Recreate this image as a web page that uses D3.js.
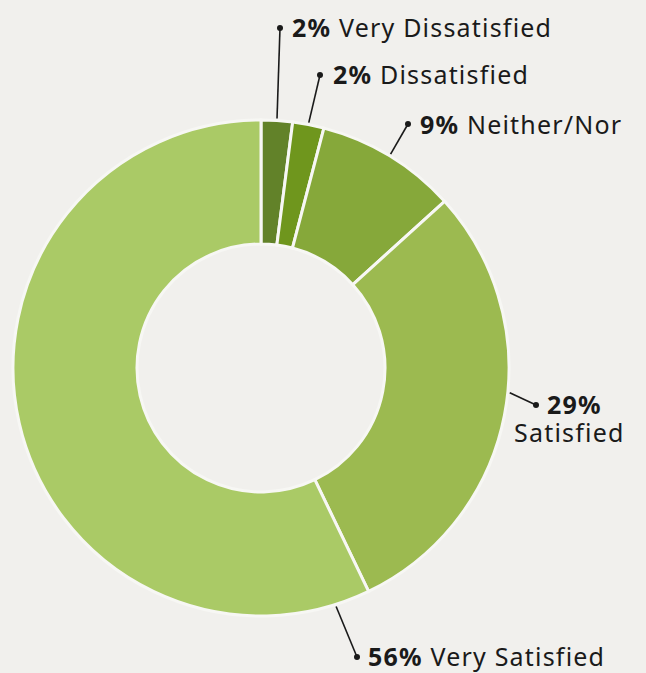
<!DOCTYPE html>
<html><head><meta charset="utf-8">
<script src="https://cdn.jsdelivr.net/npm/d3@7"></script>
<style>
html,body{margin:0;padding:0;background:#f1f0ed;}
svg{display:block;}
text{font-family:"Noto Sans",sans-serif;fill:#1a1a1a;letter-spacing:1.2px;}
</style></head><body>
<svg id="c" width="646" height="673"></svg>
<script>
const categories = ["Very Dissatisfied","Dissatisfied","Neither/Nor","Satisfied","Very Satisfied"];
const values = [2, 2, 9, 29, 56];
const pctLabels = ["2%","2%","9%","29%","56%"];
const colors = ["#628229","#6f961d","#86a83a","#9cba50","#aaca66"];

// label layout: anchor position within slice (0..1), dot position, text lines
const labelLayout = [
  {f:0.5, dot:[280,28], lines:[{x:292,y:37,parts:[[0,1],[" ",0],[1,0]]}]},
  {f:0.5, dot:[320,75], lines:[{x:333,y:84,parts:[[0,1],[" ",0],[1,0]]}]},
  {f:0.5, dot:[408,124], lines:[{x:420,y:134,parts:[[0,1],[" ",0],[1,0]]}]},
  {f:0.45, dot:[536,405], lines:[{x:547,y:414,parts:[[0,1]]},{x:514,y:442,parts:[[1,0]]}]},
  {f:0.04, dot:[357,657], lines:[{x:368,y:666,parts:[[0,1],[" ",0],[1,0]]}]}
];

const cx = 261, cy = 368, R = 248, r = 124;
const svg = d3.select("#c");
const g = svg.append("g").attr("transform",`translate(${cx},${cy})`);
const pie = d3.pie().sort(null).value(d=>d.v)(values.map((v,i)=>({v,i})));
const arc = d3.arc().innerRadius(r).outerRadius(R);
g.selectAll("path").data(pie).join("path")
  .attr("d",arc).attr("fill",d=>colors[d.data.i])
  .attr("stroke","#f7f7f4").attr("stroke-width",3).attr("stroke-linejoin","miter");

pie.forEach((d,i)=>{
  const L = labelLayout[i];
  const a = d.startAngle + (d.endAngle-d.startAngle)*L.f;
  const x0 = cx + (R+2)*Math.sin(a), y0 = cy - (R+2)*Math.cos(a);
  svg.append("line").attr("x1",x0).attr("y1",y0).attr("x2",L.dot[0]).attr("y2",L.dot[1])
    .attr("stroke","#1a1a1a").attr("stroke-width",1.6);
  svg.append("circle").attr("cx",L.dot[0]).attr("cy",L.dot[1]).attr("r",3).attr("fill","#1a1a1a");
  L.lines.forEach(ln=>{
    const t = svg.append("text").attr("x",ln.x).attr("y",ln.y).attr("font-size",25);
    ln.parts.forEach(p=>{
      const s = p[0]===0 ? pctLabels[i] : p[0]===1 ? categories[i] : p[0];
      t.append("tspan").attr("font-weight",p[1]?700:400).text(s);
    });
  });
});
</script>
</body></html>
